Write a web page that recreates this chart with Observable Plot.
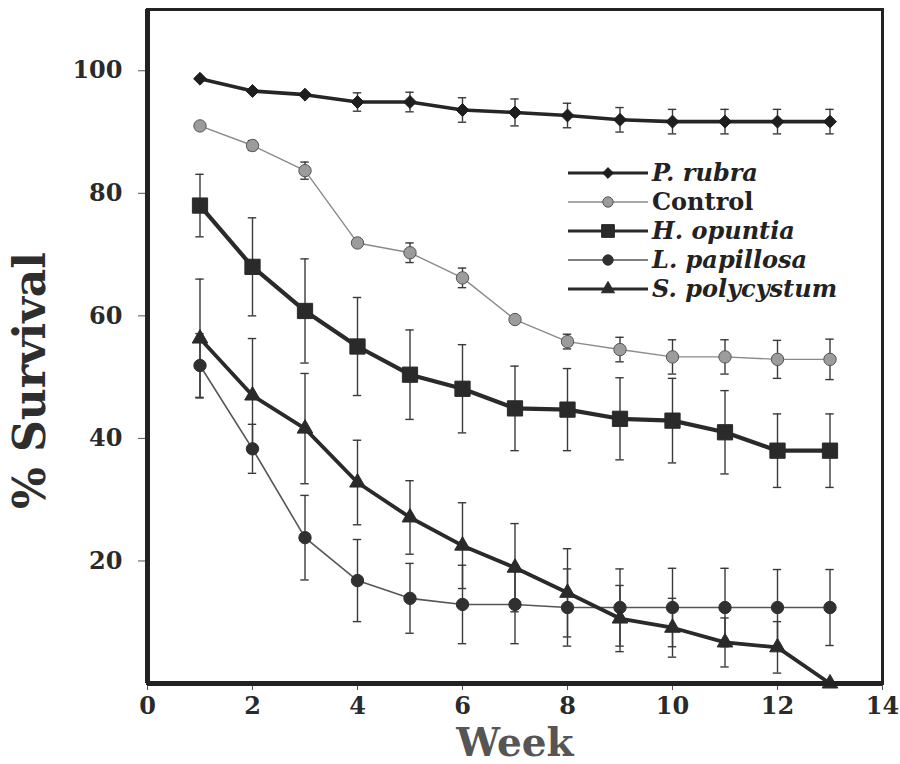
<!DOCTYPE html>
<html><head><meta charset="utf-8">
<script src="https://cdn.jsdelivr.net/npm/d3@7"></script>
<script src="https://cdn.jsdelivr.net/npm/@observablehq/plot@0.6"></script>
<style>
body{margin:0;background:#fff}
#wrap{position:relative;width:900px;height:764px}
#legend{position:absolute;left:556px;top:155px}
</style>
</head><body><div id="wrap"></div>
<script>
const weeks = [1,2,3,4,5,6,7,8,9,10,11,12,13];
const seriesNames = ["P. rubra","Control","H. opuntia","L. papillosa","S. polycystum"];
const pRubra      = [98.7,96.7,96.1,94.9,94.9,93.6,93.2,92.7,92.0,91.7,91.7,91.7,91.7];
const pRubraErr   = [0.4,0.5,0.6,1.5,1.6,2.0,2.2,2.0,2.0,2.0,2.0,2.0,2.0];
const control     = [91.0,87.8,83.7,71.9,70.3,66.2,59.4,55.8,54.5,53.3,53.3,52.9,52.9];
const controlErr  = [0.5,0.8,1.4,0.5,1.6,1.6,0.5,1.2,2.0,2.8,2.8,3.1,3.3];
const hOpuntia    = [78.0,68.0,60.8,55.0,50.4,48.1,44.9,44.7,43.2,42.9,41.0,38.0,38.0];
const hOpuntiaErr = [5.1,8.0,8.5,8.0,7.3,7.2,6.9,6.7,6.7,6.9,6.8,6.0,6.0];
const lPapillosa    = [51.9,38.3,23.8,16.8,13.9,12.9,12.9,12.4,12.4,12.4,12.4,12.4,12.4];
const lPapillosaErr = [5.2,4.0,6.9,6.7,5.7,6.4,6.4,6.3,6.3,6.4,6.4,6.2,6.2];
const sPolycystum    = [56.3,47.0,41.6,32.8,27.1,22.5,18.9,14.8,10.6,9.1,6.7,5.9,0];
const sPolycystumErr = [9.7,9.3,9.0,6.9,6.0,7.0,7.2,7.2,5.4,4.8,4.0,4.2,0];
const xTicks = [0,2,4,6,8,10,12,14];
const yTicks = [20,40,60,80,100];

const values = [pRubra, control, hOpuntia, lPapillosa, sPolycystum];
const errs = [pRubraErr, controlErr, hOpuntiaErr, lPapillosaErr, sPolycystumErr];

const styles = [
  {symbol:"diamond2", r:5.8, fill:"#1e1e1e", stroke:"#1e1e1e", line:"#262626", lw:3.6, italic:true},
  {symbol:"circle",   r:6.2, fill:"#9c9c9c", stroke:"#555",    line:"#8a8a8a", lw:1.4, italic:false},
  {symbol:"square",   r:8.6, fill:"#2a2a2a", stroke:"#2a2a2a", line:"#2a2a2a", lw:4.2, italic:true},
  {symbol:"circle",   r:6.2, fill:"#303030", stroke:"#303030", line:"#555",    lw:1.6, italic:true},
  {symbol:"triangle", r:5.8, fill:"#2a2a2a", stroke:"#2a2a2a", line:"#2a2a2a", lw:3.8, italic:true}
];

const serif = "'DejaVu Serif', 'Liberation Serif', serif";

const data = seriesNames.map((s, i) => weeks.map((w, j) => ({series: s, week: w, value: values[i][j], err: errs[i][j]})));

const errMarks = [];
const lineMarks = [];
data.forEach((rows, i) => {
  const st = styles[i];
  const eb = rows.filter(d => d.err > 0.7);
  errMarks.push(
    Plot.ruleX(eb, {x: "week", y1: d => d.value - d.err, y2: d => d.value + d.err, stroke: "#3a3a3a", strokeWidth: 1.4}),
    Plot.ruleY(eb, {y: d => d.value + d.err, x1: d => d.week - 0.08, x2: d => d.week + 0.08, stroke: "#3a3a3a", strokeWidth: 1.4}),
    Plot.ruleY(eb, {y: d => d.value - d.err, x1: d => d.week - 0.08, x2: d => d.week + 0.08, stroke: "#3a3a3a", strokeWidth: 1.4})
  );
  lineMarks.push(
    Plot.line(rows, {x: "week", y: "value", stroke: st.line, strokeWidth: st.lw}),
    Plot.dot(rows, {x: "week", y: "value", symbol: () => st.symbol, r: st.r, fill: st.fill, stroke: st.stroke, strokeWidth: 1})
  );
});

const chart = Plot.plot({
  width: 900,
  height: 764,
  marginLeft: 147,
  marginRight: 18,
  marginTop: 9,
  marginBottom: 81,
  style: {fontFamily: serif, background: "#fff", color: "#2a2a2a"},
  x: {domain: [0, 14]},
  y: {domain: [0, 110]},
  marks: [
    Plot.axisY({ticks: yTicks, tickSize: 9, tickPadding: 16, label: null, fontSize: 24, fontWeight: "bold", stroke: "#555", strokeWidth: 1}),
    Plot.axisX({ticks: xTicks, tickSize: 7, tickPadding: 6, label: null, fontSize: 24, fontWeight: "bold", stroke: "#555", strokeWidth: 1}),
    Plot.text(["Week"], {frameAnchor: "bottom", lineAnchor: "bottom", dy: 72, text: d => d, fontSize: 39, fontWeight: "bold", fill: "#555", fontFamily: serif}),
    Plot.text(["% Survival"], {frameAnchor: "left", textAnchor: "middle", dx: -117, dy: 34, rotate: -90, text: d => d, fontSize: 44, fontWeight: "bold", fill: "#2e2e2e", fontFamily: serif}),
    ...errMarks,
    ...lineMarks,
    Plot.frame({stroke: "#222", strokeWidth: 3}),
    Plot.ruleX([0], {stroke: "#222", strokeWidth: 5}),
    Plot.ruleY([0], {stroke: "#222", strokeWidth: 5})
  ]
});
document.getElementById("wrap").appendChild(chart);

// legend
const lg = d3.select("#wrap").append("svg").attr("id", "legend").attr("width", 330).attr("height", 150);
const symMap = {diamond2: d3.symbolDiamond2, circle: d3.symbolCircle, square: d3.symbolSquare, triangle: d3.symbolTriangle};
seriesNames.forEach((s, i) => {
  const st = styles[i];
  const y = 18 + i * 29;
  lg.append("line").attr("x1", 12).attr("x2", 92).attr("y1", y).attr("y2", y)
    .attr("stroke", st.line).attr("stroke-width", Math.min(st.lw, 3));
  lg.append("path").attr("d", d3.symbol(symMap[st.symbol], Math.PI * st.r * st.r * 0.7)())
    .attr("transform", `translate(52,${y})`).attr("fill", st.fill).attr("stroke", st.stroke);
  lg.append("text").attr("x", 96).attr("y", y + 8).text(s)
    .attr("font-family", serif).attr("font-size", 24).attr("font-weight", "bold")
    .attr("font-style", st.italic ? "italic" : "normal").attr("fill", "#222");
});
</script>
</body></html>
